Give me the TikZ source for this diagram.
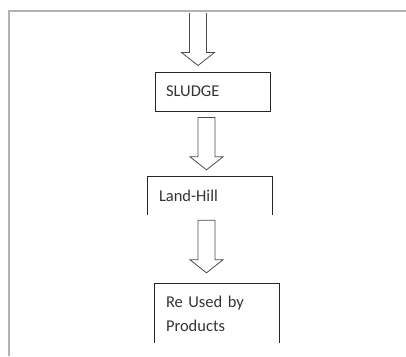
\documentclass[tikz,border=0pt]{standalone}
\usepackage{fontspec}
\setmainfont{Carlito}
\usetikzlibrary{calc}

\newcommand{\hollowdown}[3]{%
    \draw[hollow] let \p1 = #1, \p2 = #2 in
        (\x2 - 8.5pt, \y1) -- (\x2 - 8.5pt, \y2 + 13pt) -- (\x2 - 16.5pt, \y2 + 13pt)
        -- (\x2, \y2) -- (\x2 + 16.5pt, \y2 + 13pt) -- (\x2 + 8.5pt, \y2 + 13pt)
        -- (\x2 + 8.5pt, \y1) #3;
}

\begin{document}
\begin{tikzpicture}[x=1pt, y=-1pt,
        stage/.style={minimum height=39pt, inner xsep=11pt, inner ysep=0pt,
                align=left, font=\fontsize{16.5}{24}\selectfont, text=black!80},
        box/.style={draw=black!85, line width=1pt},
        hollow/.style={draw=black!70, line width=0.8pt},
        frameline/.style={draw=black!30, line width=1.2pt}]

    \useasboundingbox (0, 0) rectangle (406, 356);

    \draw[frameline] (9, 356) -- (9, 11) -- (406, 11);

    \node[stage, box, minimum width=115pt, text width=93pt] (sludge) at (212.5, 91.5) {SLUDGE};
    \node[stage, minimum width=124pt, minimum height=38pt, text width=102pt] (landhill) at (210, 196) {Land-Hill};
    \node[stage, minimum width=124pt, minimum height=59pt, text width=102pt] (reused) at (217, 313.5) {Re Used by\\Products};

    \draw[box] (landhill.south west) |- (landhill.north east) -- (landhill.south east);
    \draw[box] (reused.south west) |- (reused.north east) -- (reused.south east);

    \coordinate (a1) at (198, 13);
    \coordinate (a2) at ([xshift=-6pt, yshift=-6pt]sludge.south);
    \coordinate (a3) at ([xshift=-3.5pt, yshift=-5pt]landhill.south);

    \hollowdown{(a1)}{([yshift=6pt]a1 |- sludge.north)}{}
    \hollowdown{(a2)}{([yshift=7pt]a2 |- landhill.north)}{-- cycle}
    \hollowdown{(a3)}{([yshift=11pt]a3 |- reused.north)}{-- cycle}

\end{tikzpicture}
\end{document}
